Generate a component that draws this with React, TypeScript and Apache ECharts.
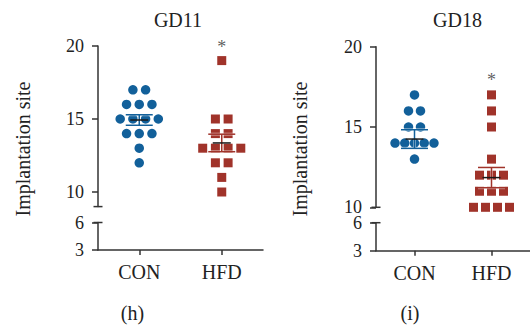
import React, { useEffect, useRef } from "react";
import * as echarts from "echarts";

// ---- data ----
const categories = ["CON", "HFD"];
const panelTitles = ["GD11", "GD18"];
const panelTags = ["(h)", "(i)"];
const yName = "Implantation site";

const gd11Con = [17, 17, 16, 16, 16, 15, 15, 15, 15, 14, 14, 14, 13, 12];
const gd11Hfd = [19, 15, 15, 14, 14, 13, 13, 13, 13, 12, 12, 11, 10];
const gd18Con = [17, 16, 16, 15, 15, 14, 14, 14, 14, 14, 13];
const gd18Hfd = [17, 16, 15, 13, 12, 12, 12, 11, 11, 11, 10, 10, 10, 10];

const gd11Mean = [14.93, 13.36];
const gd11Sem = [0.36, 0.6];
const gd18Mean = [14.25, 11.85];
const gd18Sem = [0.58, 0.63];

const gd11Star = [1, 19.95];
const gd18Star = [1, 17.92];

const upperTicksH = [10, 15, 20];
const upperTicksI = [10, 15, 20];
const lowerTicks = [3, 6];
const upperRangeH = [9, 20];
const upperRangeI = [10, 20];
const lowerRange = [3, 6];

// ---- style ----
const FONT = "'Liberation Serif', 'Times New Roman', serif";
const BLUE = "#12609a";
const RED = "#a0332a";
const AXIS = "#333";
const TEXT = "#222";

function swarm(values: number[], center: number, pxPerUnit: number) {
  const counts: Record<number, number> = {};
  values.forEach((v) => (counts[v] = (counts[v] || 0) + 1));
  const seen: Record<number, number> = {};
  return values.map((v) => {
    const n = counts[v];
    const i = seen[v] || 0;
    seen[v] = i + 1;
    const sp = (n >= 5 ? 10.3 : 12.7) / pxPerUnit;
    return [center + (i - (n - 1) / 2) * sp, v];
  });
}

function yAxisCfg(grid: number, range: number[], ticks: number[]) {
  return {
    type: "value",
    gridIndex: grid,
    min: range[0],
    max: range[1],
    axisLine: { show: true, onZero: false, lineStyle: { color: AXIS, width: 1.5 } },
    axisTick: { show: true, length: 6, customValues: ticks, lineStyle: { color: AXIS, width: 1.5 } },
    axisLabel: { customValues: ticks, fontSize: 18, lineHeight: 13, fontFamily: FONT, color: TEXT, margin: 14 },
    splitLine: { show: false },
  };
}

function hiddenX(grid: number) {
  return { type: "value", gridIndex: grid, min: -0.5, max: 1.5, show: false };
}

function catX(grid: number) {
  return {
    type: "category",
    gridIndex: grid,
    data: categories,
    position: "bottom",
    axisLine: { show: true, onZero: false, lineStyle: { color: AXIS, width: 1.5 } },
    axisTick: { show: true, alignWithLabel: true, length: 5, lineStyle: { color: AXIS, width: 1.5 } },
    axisLabel: { fontSize: 20, fontFamily: FONT, color: TEXT, margin: 12 },
    splitLine: { show: false },
  };
}

function semSeries(xi: number, yi: number, means: number[], sems: number[]) {
  const colors = [BLUE, RED];
  return {
    type: "custom",
    xAxisIndex: xi,
    yAxisIndex: yi,
    z: 5,
    silent: true,
    data: means.map((m, i) => [i, m, sems[i]]),
    renderItem: (params: any, api: any) => {
      const x = api.value(0);
      const m = api.value(1);
      const s = api.value(2);
      const c = api.coord([x, m]);
      const t = api.coord([x, m + s]);
      const b = api.coord([x, m - s]);
      const col = colors[x];
      const seg = (x1: number, y1: number, x2: number, y2: number, stroke: string, w: number, op = 1) => ({
        type: "line",
        shape: { x1, y1, x2, y2 },
        style: { stroke, lineWidth: w, opacity: op },
      });
      return {
        type: "group",
        children: [
          seg(c[0], t[1], c[0], b[1], "#fff", 3, 0.5),
          seg(c[0] - 13.5, t[1], c[0] + 13.5, t[1], "#fff", 3, 0.5),
          seg(c[0] - 13.5, b[1], c[0] + 13.5, b[1], "#fff", 3, 0.5),
          seg(c[0], t[1], c[0], b[1], col, 1.5),
          seg(c[0] - 13.5, t[1], c[0] + 13.5, t[1], col, 1.5),
          seg(c[0] - 13.5, b[1], c[0] + 13.5, b[1], col, 1.5),
          seg(c[0] - 9, c[1], c[0] + 9, c[1], "#1a1a1a", 1.5),
        ],
      };
    },
  };
}

function capSeries(xi: number, yi: number, y: number) {
  return {
    type: "scatter",
    xAxisIndex: xi,
    yAxisIndex: yi,
    symbol: "rect",
    symbolSize: [9, 1.5],
    itemStyle: { color: AXIS, opacity: 1 },
    clip: false,
    silent: true,
    data: [[-0.5, y]],
  };
}

function starSeries(xi: number, yi: number, pos: number[]) {
  return {
    type: "scatter",
    xAxisIndex: xi,
    yAxisIndex: yi,
    symbolSize: 1,
    itemStyle: { color: "rgba(0,0,0,0)" },
    silent: true,
    data: [pos],
    label: {
      show: true,
      position: "inside",
      formatter: "*",
      fontSize: 18,
      fontFamily: FONT,
      color: "#333",
    },
  };
}

export default function App() {
  const ref = useRef<HTMLDivElement>(null);
  useEffect(() => {
    if (!ref.current) return;
    const chart = echarts.init(ref.current, undefined, { renderer: "svg" });
    const wH = 165;
    const wI = 163;
    const option: any = {
      animation: false,
      backgroundColor: "#fff",
      grid: [
        { left: 98, top: 46, width: wH, height: 160.6 },
        { left: 98, top: 222.5, width: wH, height: 27.5 },
        { left: 376, top: 46.7, width: wI, height: 160.6 },
        { left: 376, top: 222.7, width: wI, height: 28 },
      ],
      xAxis: [hiddenX(0), catX(1), hiddenX(1), hiddenX(2), catX(3), hiddenX(3)],
      yAxis: [
        yAxisCfg(0, upperRangeH, upperTicksH),
        yAxisCfg(1, lowerRange, lowerTicks),
        yAxisCfg(2, upperRangeI, upperTicksI),
        yAxisCfg(3, lowerRange, lowerTicks),
      ],
      series: [
        {
          type: "scatter",
          xAxisIndex: 0,
          yAxisIndex: 0,
          symbol: "circle",
          symbolSize: 9.5,
          itemStyle: { color: BLUE, opacity: 1 },
          data: swarm(gd11Con, 0, wH / 2),
        },
        {
          type: "scatter",
          xAxisIndex: 0,
          yAxisIndex: 0,
          symbol: "rect",
          symbolSize: 9,
          itemStyle: { color: RED, opacity: 1 },
          data: swarm(gd11Hfd, 1, wH / 2),
        },
        semSeries(0, 0, gd11Mean, gd11Sem),
        starSeries(0, 0, gd11Star),
        capSeries(0, 0, upperRangeH[0]),
        capSeries(2, 1, lowerRange[1]),
        {
          type: "scatter",
          xAxisIndex: 3,
          yAxisIndex: 2,
          symbol: "circle",
          symbolSize: 9.5,
          itemStyle: { color: BLUE, opacity: 1 },
          data: swarm(gd18Con, 0, wI / 2),
        },
        {
          type: "scatter",
          xAxisIndex: 3,
          yAxisIndex: 2,
          symbol: "rect",
          symbolSize: 9,
          itemStyle: { color: RED, opacity: 1 },
          data: swarm(gd18Hfd, 1, wI / 2),
        },
        semSeries(3, 2, gd18Mean, gd18Sem),
        starSeries(3, 2, gd18Star),
        capSeries(3, 2, upperRangeI[0]),
        capSeries(5, 3, lowerRange[1]),
      ],
      graphic: [
        { type: "text", x: 178, y: 19.5, style: { text: panelTitles[0], font: `20px ${FONT}`, fill: TEXT, align: "center", verticalAlign: "middle" } },
        { type: "text", x: 457.5, y: 19.5, style: { text: panelTitles[1], font: `20px ${FONT}`, fill: TEXT, align: "center", verticalAlign: "middle" } },
        { type: "text", x: 23, y: 149, rotation: Math.PI / 2, style: { text: yName, font: `20px ${FONT}`, fill: TEXT, align: "center", verticalAlign: "middle" } },
        { type: "text", x: 300, y: 149, rotation: Math.PI / 2, style: { text: yName, font: `20px ${FONT}`, fill: TEXT, align: "center", verticalAlign: "middle" } },
        { type: "text", x: 132.5, y: 313, style: { text: panelTags[0], font: `20px ${FONT}`, fill: TEXT, align: "center", verticalAlign: "middle" } },
        { type: "text", x: 410, y: 313, style: { text: panelTags[1], font: `20px ${FONT}`, fill: TEXT, align: "center", verticalAlign: "middle" } },
      ],
    };
    chart.setOption(option);
    return () => chart.dispose();
  }, []);
  return (
    <div
      ref={ref}
      style={{ position: "absolute", left: 0, top: 0, width: 530, height: 328, background: "#fff" }}
    />
  );
}
